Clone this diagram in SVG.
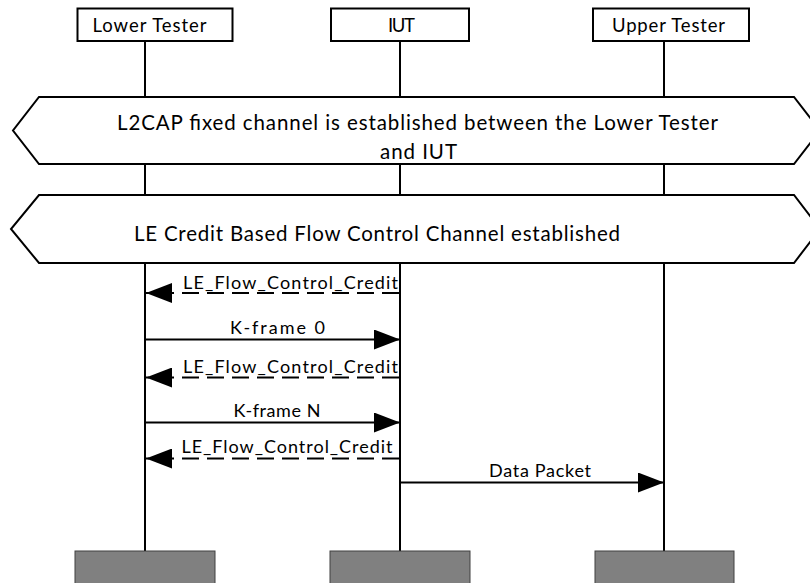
<svg xmlns="http://www.w3.org/2000/svg" width="810" height="583" viewBox="0 0 810 583">
<defs>
<style>
.t{font-family:Lato,"Open Sans","Liberation Sans",sans-serif;font-size:18.5px;fill:#000}
.h{font-size:20.5px}
.m{font-size:18px}
.box{fill:#fff;stroke:#000;stroke-width:2}
.life{stroke:#000;stroke-width:2}
.hex{fill:#fff;stroke:#000;stroke-width:2}
.end{fill:#808080;stroke:#404040;stroke-width:1}
.msg{stroke:#000;stroke-width:2;fill:none}
.dash{stroke-dasharray:17 8}
</style>
<marker id="ah" markerUnits="userSpaceOnUse" markerWidth="27" markerHeight="20" refX="26" refY="10" orient="auto" viewBox="0 0 27 20">
<path d="M0,0 L26,10 L0,20 z" fill="#000" stroke="none"/>
</marker>
</defs>
<rect width="810" height="583" fill="#fff"/>
<g id="lifelines">
<line class="life" x1="145" y1="41" x2="145" y2="551"/>
<line class="life" x1="400" y1="41" x2="400" y2="551"/>
<line class="life" x1="664" y1="41" x2="664" y2="551"/>
</g>
<g id="lower-tester">
<rect class="box" x="77.5" y="8.5" width="155" height="32.5"/>
<text class="t" x="149.5" y="32.3" text-anchor="middle" textLength="114" lengthAdjust="spacing">Lower Tester</text>
<rect class="end" x="75" y="551" width="140" height="40"/>
</g>
<g id="iut">
<rect class="box" x="331" y="8.5" width="138" height="32.5"/>
<text class="t" x="401.5" y="32.3" text-anchor="middle" textLength="27" lengthAdjust="spacing">IUT</text>
<rect class="end" x="330" y="551" width="140" height="40"/>
</g>
<g id="upper-tester">
<rect class="box" x="593" y="8.5" width="156" height="32.5"/>
<text class="t" x="668.5" y="32.3" text-anchor="middle" textLength="113" lengthAdjust="spacing">Upper Tester</text>
<rect class="end" x="595" y="551" width="139" height="40"/>
</g>
<g id="l2cap-established">
<polygon class="hex" points="39,97 794,97 820,130.5 794,164 39,164 13,130.5"/>
<text class="t h" x="417.5" y="130" text-anchor="middle" textLength="601" lengthAdjust="spacing">L2CAP fixed channel is established between the Lower Tester</text>
<text class="t h" x="418.5" y="159" text-anchor="middle" textLength="77" lengthAdjust="spacing">and IUT</text>
</g>
<g id="le-credit-established">
<polygon class="hex" points="39,195 794,195 820,229 794,263 39,263 11,229"/>
<text class="t h" x="377" y="241" text-anchor="middle" textLength="486" lengthAdjust="spacing">LE Credit Based Flow Control Channel established</text>
</g>
<g id="connectors">
<line class="msg dash" x1="399" y1="293" x2="146" y2="293" marker-end="url(#ah)"/>
<text class="t m" x="398" y="288.5" text-anchor="end" textLength="215" lengthAdjust="spacing">LE_Flow_Control_Credit</text>
<line class="msg" x1="145" y1="339.5" x2="400" y2="339.5" marker-end="url(#ah)"/>
<text class="t m" x="277.5" y="334" text-anchor="middle" textLength="95" lengthAdjust="spacing">K-frame 0</text>
<line class="msg dash" x1="399" y1="377.5" x2="146" y2="377.5" marker-end="url(#ah)"/>
<text class="t m" x="398" y="373" text-anchor="end" textLength="215" lengthAdjust="spacing">LE_Flow_Control_Credit</text>
<line class="msg" x1="145" y1="422.5" x2="400" y2="422.5" marker-end="url(#ah)"/>
<text class="t m" x="277" y="417" text-anchor="middle" textLength="87" lengthAdjust="spacing">K-frame N</text>
<line class="msg dash" x1="399" y1="458.5" x2="146" y2="458.5" marker-end="url(#ah)"/>
<text class="t m" x="392.5" y="453" text-anchor="end" textLength="211" lengthAdjust="spacing">LE_Flow_Control_Credit</text>
<line class="msg" x1="400" y1="482.5" x2="664" y2="482.5" marker-end="url(#ah)"/>
<text class="t m" x="540" y="477" text-anchor="middle" textLength="102" lengthAdjust="spacing">Data Packet</text>
</g>
</svg>
